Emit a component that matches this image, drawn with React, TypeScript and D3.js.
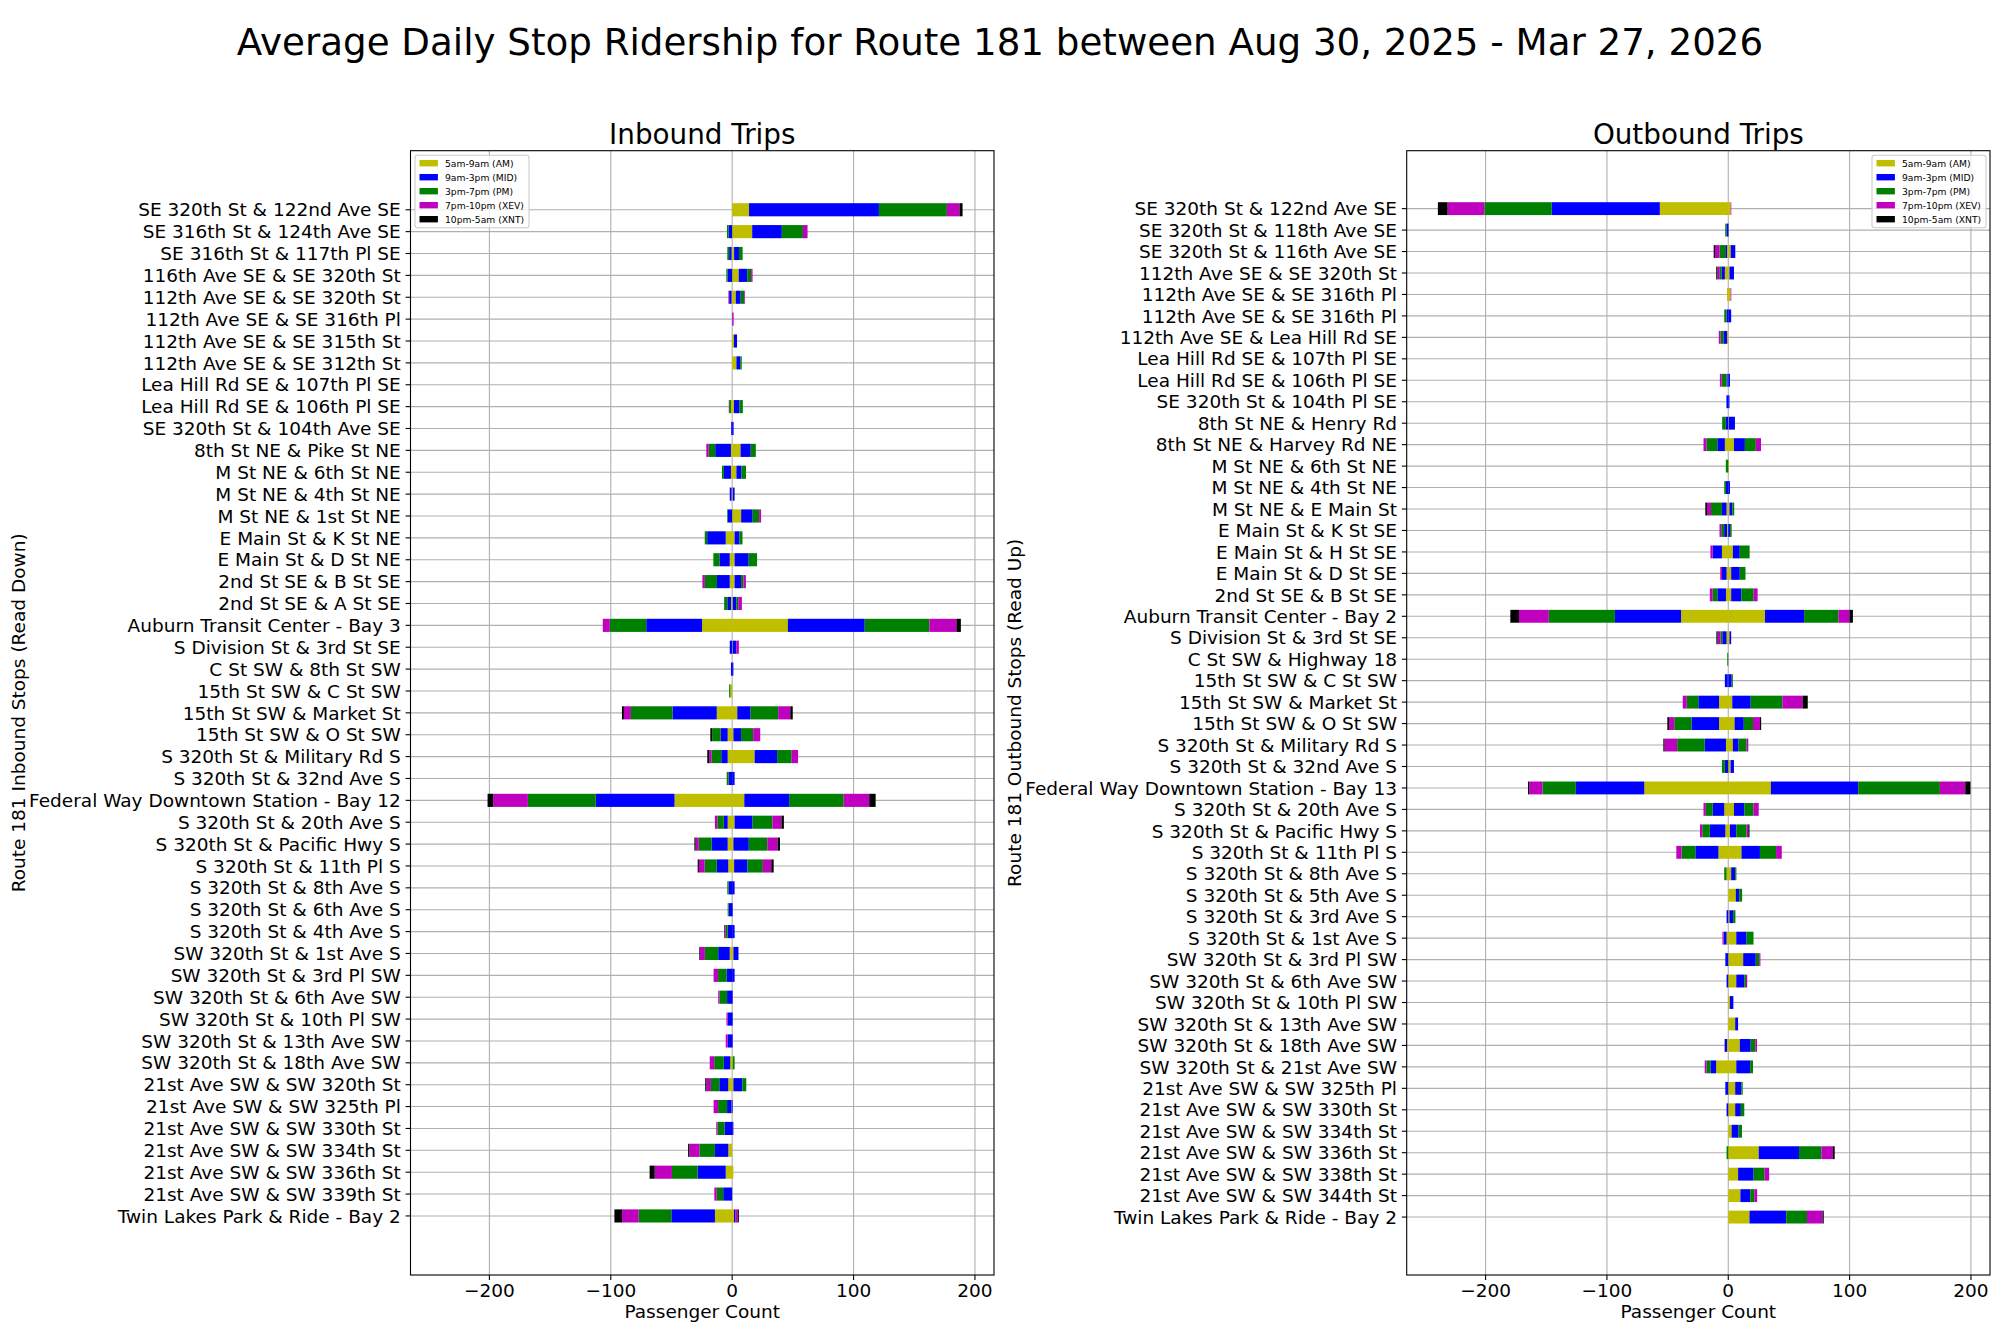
import React from 'react';
import * as d3 from 'd3';

// time-of-day periods, stacked outward from zero on both sides
const periods = ['5am-9am (AM)', '9am-3pm (MID)', '3pm-7pm (PM)', '7pm-10pm (XEV)', '10pm-5am (XNT)'];
const periodColors = ['#bfbf00', '#0000ff', '#008000', '#bf00bf', '#000000'];
const xTicks = [-200, -100, 0, 100, 200];

const inboundStops = [
  'SE 320th St & 122nd Ave SE', 'SE 316th St & 124th Ave SE', 'SE 316th St & 117th Pl SE',
  '116th Ave SE & SE 320th St', '112th Ave SE & SE 320th St', '112th Ave SE & SE 316th Pl',
  '112th Ave SE & SE 315th St', '112th Ave SE & SE 312th St', 'Lea Hill Rd SE & 107th Pl SE',
  'Lea Hill Rd SE & 106th Pl SE', 'SE 320th St & 104th Ave SE', '8th St NE & Pike St NE',
  'M St NE & 6th St NE', 'M St NE & 4th St NE', 'M St NE & 1st St NE', 'E Main St & K St NE',
  'E Main St & D St NE', '2nd St SE & B St SE', '2nd St SE & A St SE', 'Auburn Transit Center - Bay 3',
  'S Division St & 3rd St SE', 'C St SW & 8th St SW', '15th St SW & C St SW', '15th St SW & Market St',
  '15th St SW & O St SW', 'S 320th St & Military Rd S', 'S 320th St & 32nd Ave S',
  'Federal Way Downtown Station - Bay 12', 'S 320th St & 20th Ave S', 'S 320th St & Pacific Hwy S',
  'S 320th St & 11th Pl S', 'S 320th St & 8th Ave S', 'S 320th St & 6th Ave S', 'S 320th St & 4th Ave S',
  'SW 320th St & 1st Ave S', 'SW 320th St & 3rd Pl SW', 'SW 320th St & 6th Ave SW',
  'SW 320th St & 10th Pl SW', 'SW 320th St & 13th Ave SW', 'SW 320th St & 18th Ave SW',
  '21st Ave SW & SW 320th St', '21st Ave SW & SW 325th Pl', '21st Ave SW & SW 330th St',
  '21st Ave SW & SW 334th St', '21st Ave SW & SW 336th St', '21st Ave SW & SW 339th St',
  'Twin Lakes Park & Ride - Bay 2',
];

// boardings (drawn to the right)
const inboundOnAM = [13.9, 16.5, 1.6, 5.4, 3, 0, 1.5, 3.5, 0, 1.5, 0, 6.9, 3.5, 0.5, 7.4, 2, 2, 2, 0.5, 45.9, 0.5, 0, 0, 4.2, 1, 18.5, 0, 10, 2, 1, 1.6, 0, 0, 0, 1, 0, 0, 0, 0, 0.5, 1, 0, 0, 0, 1, 0, 1.5];
const inboundOnMID = [107, 24.4, 4, 7, 4, 0, 2.5, 3.2, 0, 4.5, 1.2, 8.4, 4.2, 1.5, 9.5, 4, 11.6, 5.3, 3, 63.3, 3, 1, 0, 11, 6.3, 18.5, 2, 36.9, 14.8, 12.7, 11, 2, 0.5, 2, 4.2, 2, 0.5, 0.5, 0.5, 0, 7.4, 0.5, 1, 0, 0, 0, 1];
const inboundOnPM = [56, 17.4, 3, 3.2, 3, 0, 0, 1.2, 0, 2.8, 0, 4.2, 3.7, 0, 5.3, 2.5, 6.9, 2, 1.5, 53.3, 0, 0, 0, 22.7, 10, 12, 0, 44.9, 16.4, 15.3, 12.7, 0, 0, 0, 0, 0, 0, 0, 0, 1.5, 3.2, 0, 0, 0, 0, 0, 0];
const inboundOnXEV = [10.4, 3.8, 0, 1.2, 0.6, 1.2, 0, 0, 0, 0, 0, 0, 0, 0, 1.6, 0, 0, 2, 3, 22.2, 2, 0, 0, 10, 5.8, 5.3, 0, 21.1, 7.4, 8.4, 6.9, 0, 0, 0, 0, 0, 0, 0, 0, 0, 0, 0, 0, 0, 0, 0, 2];
const inboundOnXNT = [2.5, 0, 0, 0, 0, 0, 0, 0, 0, 0, 0, 0, 0, 0, 0, 0, 0, 0, 0, 3.7, 0, 0, 0, 2, 0, 0, 0, 5.3, 2, 2, 2, 0, 0, 0, 0, 0, 0, 0, 0, 0, 0, 0, 0, 0, 0, 0, 1];
// alightings (drawn to the left)
const inboundOffAM = [0, 0, 0.5, 0, 0.5, 0, 0, 0, 0, 1, 0, 1, 1, 0.5, 0, 5.3, 2, 2, 1, 24.8, 0, 0, 1.5, 12.7, 3.7, 3.7, 0, 47.5, 3.7, 3.7, 3.2, 0, 0, 0, 2, 0, 0, 0, 0, 1.6, 3.2, 0.5, 0, 3.2, 5.3, 0, 14.2];
const inboundOffMID = [0, 3, 2, 3.8, 2, 0, 0, 0, 0, 0, 0.8, 13, 5.8, 1.5, 3.7, 15.3, 8.5, 10.5, 3, 46, 2, 1, 0, 36.4, 5.8, 5.3, 3, 64.9, 3.2, 13.2, 9.5, 3, 3, 3.7, 9.5, 4.7, 4.2, 3.7, 3.7, 5.3, 7.4, 3.7, 6.3, 11, 23.2, 7.4, 35.9];
const inboundOffPM = [0, 1.3, 1.5, 1, 0, 0, 0, 0, 0, 1.5, 0, 5.3, 1.6, 0, 0.5, 2, 5, 10, 2.6, 30, 0, 0, 1, 34.3, 6.9, 7.9, 1.5, 55.9, 5.3, 10.6, 10, 1, 0.7, 2, 11, 6.9, 6.3, 0, 0, 7.9, 6.9, 7.4, 5.8, 12.7, 21.1, 5.3, 26.9];
const inboundOffXEV = [0, 0, 0, 0, 0.6, 0, 0, 0, 0, 0.3, 0, 2, 0, 0, 0, 0, 0, 2, 0, 5.8, 0, 0, 0, 5.8, 0, 2, 0, 28.5, 2, 2.6, 4.7, 0, 0, 1, 4.2, 3.7, 1, 1, 1.6, 3.7, 3.7, 3.7, 1, 8.4, 14.2, 2, 13.7];
const inboundOffXNT = [0, 0, 0, 0, 0, 0, 0, 0, 0, 0, 0, 0, 0, 0, 0, 0, 0, 0, 0, 0, 0, 0, 0, 1.6, 1.6, 1.6, 0, 4.7, 0, 1, 1, 0, 0, 0, 0.5, 0, 0, 0, 0, 0, 1, 0, 0, 1, 4.2, 0, 6.3];

const outboundStops = [
  'SE 320th St & 122nd Ave SE', 'SE 320th St & 118th Ave SE', 'SE 320th St & 116th Ave SE',
  '112th Ave SE & SE 320th St', '112th Ave SE & SE 316th Pl', '112th Ave SE & SE 316th Pl',
  '112th Ave SE & Lea Hill Rd SE', 'Lea Hill Rd SE & 107th Pl SE', 'Lea Hill Rd SE & 106th Pl SE',
  'SE 320th St & 104th Pl SE', '8th St NE & Henry Rd', '8th St NE & Harvey Rd NE',
  'M St NE & 6th St NE', 'M St NE & 4th St NE', 'M St NE & E Main St', 'E Main St & K St SE',
  'E Main St & H St SE', 'E Main St & D St SE', '2nd St SE & B St SE', 'Auburn Transit Center - Bay 2',
  'S Division St & 3rd St SE', 'C St SW & Highway 18', '15th St SW & C St SW', '15th St SW & Market St',
  '15th St SW & O St SW', 'S 320th St & Military Rd S', 'S 320th St & 32nd Ave S',
  'Federal Way Downtown Station - Bay 13', 'S 320th St & 20th Ave S', 'S 320th St & Pacific Hwy S',
  'S 320th St & 11th Pl S', 'S 320th St & 8th Ave S', 'S 320th St & 5th Ave S', 'S 320th St & 3rd Ave S',
  'S 320th St & 1st Ave S', 'SW 320th St & 3rd Pl SW', 'SW 320th St & 6th Ave SW',
  'SW 320th St & 10th Pl SW', 'SW 320th St & 13th Ave SW', 'SW 320th St & 18th Ave SW',
  'SW 320th St & 21st Ave SW', '21st Ave SW & SW 325th Pl', '21st Ave SW & SW 330th St',
  '21st Ave SW & SW 334th St', '21st Ave SW & SW 336th St', '21st Ave SW & SW 338th St',
  '21st Ave SW & SW 344th St', 'Twin Lakes Park & Ride - Bay 2',
];

const outboundOnAM = [2, 0, 2, 1, 2, 0, 0, 0, 0, 0, 0.5, 4.7, 0.5, 0, 1, 0, 3.8, 2.4, 2.4, 30.3, 1, 0, 0, 3.3, 5.2, 3.8, 1.9, 35.1, 4.7, 1.4, 10.9, 2.4, 6.2, 1, 6.6, 12.3, 6.6, 1.4, 5.7, 9.5, 6.6, 5.7, 5.7, 2.8, 25.1, 8.1, 10, 17.5];
const outboundOnMID = [0, 0.3, 3.8, 3.7, 0, 2.4, 0, 0, 1.4, 1, 5, 9, 0, 1.4, 2.4, 1.5, 5.7, 7.1, 8.5, 32.2, 1.4, 0, 2.8, 15.2, 7.6, 4.7, 2.8, 72, 8.5, 5.2, 15.2, 3.3, 2.8, 3, 8.5, 10.4, 6.6, 2.8, 2.4, 9, 11.4, 5.2, 4.7, 5.7, 33.2, 12.8, 8.1, 30.3];
const outboundOnPM = [0, 0, 0, 0, 0, 0, 0, 0, 0, 0, 0, 9, 0, 0, 1.5, 1.3, 8.1, 4.7, 10, 28.4, 0, 0, 1, 26.1, 7.6, 6.6, 0, 67.3, 7.6, 8.5, 13.3, 1, 2.4, 1.9, 5.7, 2.8, 1.4, 0, 0, 3.8, 2.4, 1, 2.8, 2.8, 18.5, 9, 3.3, 17.1];
const outboundOnXEV = [0.5, 0, 0, 0, 0.5, 0, 0, 0, 0, 0, 0, 4.3, 0, 0, 0, 0, 0, 0, 3.3, 9, 0, 0, 0, 16.6, 5.7, 1.4, 0, 20.9, 4.3, 1.4, 4.7, 0, 0, 0, 0, 1, 1, 0, 0, 1.4, 0, 0, 0, 0, 9.5, 3.8, 2.4, 12.8];
const outboundOnXNT = [0, 0, 0, 0, 0, 0, 0, 0, 0, 0, 0, 0, 0, 0, 0, 0, 0, 0, 0, 2.8, 0, 0, 0, 4.3, 1, 0, 0, 4.3, 0, 1, 0, 0, 0, 0, 0, 0, 0, 0, 0, 0, 0, 0, 0, 0, 1.4, 0, 0, 1];
const outboundOffAM = [56.4, 0, 1, 2.8, 1, 0, 1, 0, 0.5, 0, 0, 2.8, 0, 0, 1.4, 1, 5.2, 1.4, 1.9, 38.9, 1.4, 0, 0.4, 7.6, 7.6, 1.9, 0, 69.2, 3.3, 2.4, 8.1, 1.4, 0, 0, 1.4, 0, 0, 0, 0, 1, 10, 0, 0, 0, 0, 0, 0, 0];
const outboundOffMID = [89.1, 1.5, 1.5, 2.8, 0, 1.4, 3, 0, 1, 1.5, 2, 6.2, 0, 1.9, 3.8, 2.4, 7.6, 3.8, 7.1, 54.5, 3.5, 0, 2.4, 17.1, 22.7, 17.5, 2.8, 56.4, 9.5, 12.8, 19, 0, 0, 1.4, 2.4, 2.4, 1.4, 0, 0, 2, 4.7, 2.4, 1.4, 0, 0, 0, 0, 0];
const outboundOffPM = [55.5, 1, 4.7, 1.4, 0, 1.9, 2.4, 0, 4, 0, 3, 9, 2, 1.4, 9, 2.4, 0, 0, 3.8, 54.5, 1.5, 0.8, 0, 9.5, 14.2, 22.7, 2.4, 27.5, 5.7, 6.2, 11.4, 1.9, 0, 0, 0, 0, 0, 0, 0, 0, 3.3, 0, 0, 0, 1.4, 0, 0, 0];
const outboundOffXEV = [30.3, 0, 3.8, 1.9, 0, 0, 1.4, 0, 1.4, 0, 0, 2.4, 0, 0, 3.3, 1.4, 1.9, 1.4, 2.4, 24.6, 2.4, 0, 0, 3.3, 4.3, 10.4, 0, 10.9, 1.9, 1.9, 4.3, 0, 0, 0, 1, 0, 0, 0, 0, 0, 1.4, 0, 0, 0, 0, 0, 0, 0];
const outboundOffXNT = [8, 0, 1, 1, 0, 0, 0, 0, 0, 0, 0, 0, 0, 0, 1.4, 0, 0, 0, 0, 7.1, 1, 0, 0, 0, 1.4, 1, 0, 1, 0, 0, 0, 0, 0, 0, 0, 0, 0, 0, 0, 0, 0, 0, 0, 0, 0, 0, 0, 0];

const W = 2000;
const H = 1333;
const FONT = 'DejaVu Sans, sans-serif';
const AX_TOP = 150.7;
const AX_BOTTOM = 1275;
const X_DOMAIN: [number, number] = [-265, 215.7];

type PanelProps = {
  left: number;
  right: number;
  title: string;
  ylabel: string;
  stops: string[];
  ons: number[][];
  offs: number[][];
  legendRight: boolean;
};

const fmtTick = (v: number) => (v < 0 ? '\u2212' + Math.abs(v) : String(v));

const Panel = ({ left, right, title, ylabel, stops, ons, offs, legendRight }: PanelProps) => {
  const n = stops.length;
  const x = d3.scaleLinear().domain(X_DOMAIN).range([left, right]);
  const y = d3.scaleLinear().domain([-2.7, n - 1 + 2.7]).range([AX_TOP, AX_BOTTOM]);
  const barH = 0.6 * (y(1) - y(0));

  const segments: { x0: number; x1: number; row: number; p: number }[] = [];
  stops.forEach((_, i) => {
    let pos = 0;
    let neg = 0;
    periods.forEach((__, p) => {
      const on = ons[p][i];
      if (on > 0) {
        segments.push({ x0: pos, x1: pos + on, row: i, p });
        pos += on;
      }
      const off = offs[p][i];
      if (off > 0) {
        segments.push({ x0: -neg - off, x1: -neg, row: i, p });
        neg += off;
      }
    });
  });

  const legendW = 114;
  const legendX = legendRight ? right - 4 - legendW : left + 4.5;
  const legendY = AX_TOP + 4.5;
  const midY = (AX_TOP + AX_BOTTOM) / 2;
  const ylabelX = left - 385.5;

  return (
    <g fontFamily={FONT}>
      {/* grid */}
      {xTicks.map((t) => (
        <line key={'gx' + t} x1={x(t)} x2={x(t)} y1={AX_TOP} y2={AX_BOTTOM} stroke="#b0b0b0" strokeWidth={1.1} />
      ))}
      {stops.map((s, i) => (
        <line key={'gy' + i} x1={left} x2={right} y1={y(i)} y2={y(i)} stroke="#b0b0b0" strokeWidth={1.1} />
      ))}

      {/* bars */}
      {segments.map((s, k) => (
        <rect
          key={k}
          x={x(s.x0)}
          width={x(s.x1) - x(s.x0)}
          y={y(s.row) - barH / 2}
          height={barH}
          fill={periodColors[s.p]}
        />
      ))}

      {/* frame */}
      <rect x={left} y={AX_TOP} width={right - left} height={AX_BOTTOM - AX_TOP} fill="none" stroke="#000" strokeWidth={1.1} />

      {/* y ticks and labels */}
      {stops.map((s, i) => (
        <g key={'yt' + i}>
          <line x1={left - 4.9} x2={left} y1={y(i)} y2={y(i)} stroke="#000" strokeWidth={1.1} />
          <text x={left - 9.7} y={y(i)} dy="0.36em" textAnchor="end" fontSize={18.5}>
            {s}
          </text>
        </g>
      ))}

      {/* x ticks and labels */}
      {xTicks.map((t) => (
        <g key={'xt' + t}>
          <line x1={x(t)} x2={x(t)} y1={AX_BOTTOM} y2={AX_BOTTOM + 4.9} stroke="#000" strokeWidth={1.1} />
          <text x={x(t)} y={1297} textAnchor="middle" fontSize={18.5}>
            {fmtTick(t)}
          </text>
        </g>
      ))}

      <text x={(left + right) / 2} y={1318} textAnchor="middle" fontSize={18.5}>
        Passenger Count
      </text>
      <text
        transform={`translate(${ylabelX},${midY}) rotate(-90)`}
        textAnchor="middle"
        fontSize={18.5}
      >
        {ylabel}
      </text>
      <text x={(left + right) / 2} y={144} textAnchor="middle" fontSize={27.8}>
        {title}
      </text>

      {/* legend */}
      <g transform={`translate(${legendX},${legendY})`}>
        <rect width={legendW} height={72.5} rx={2.5} fill="#fff" fillOpacity={0.8} stroke="#cccccc" strokeWidth={1.1} />
        {periods.map((p, j) => (
          <g key={p} transform={`translate(0,${8 + j * 14})`}>
            <rect x={4.5} y={-3.2} width={18.4} height={6.4} fill={periodColors[j]} />
            <text x={30} y={0} dy="0.36em" fontSize={9.2}>
              {p}
            </text>
          </g>
        ))}
      </g>
    </g>
  );
};

const App = () => {
  return (
    <svg
      width={W}
      height={H}
      viewBox={`0 0 ${W} ${H}`}
      style={{ position: 'absolute', left: 0, top: 0, background: '#fff' }}
    >
      <rect width={W} height={H} fill="#fff" />
      <text x={W / 2} y={55} textAnchor="middle" fontSize={37.2} fontFamily={FONT}>
        Average Daily Stop Ridership for Route 181 between Aug 30, 2025 - Mar 27, 2026
      </text>
      <Panel
        left={410.5}
        right={994}
        title="Inbound Trips"
        ylabel="Route 181 Inbound Stops (Read Down)"
        stops={inboundStops}
        ons={[inboundOnAM, inboundOnMID, inboundOnPM, inboundOnXEV, inboundOnXNT]}
        offs={[inboundOffAM, inboundOffMID, inboundOffPM, inboundOffXEV, inboundOffXNT]}
        legendRight={false}
      />
      <Panel
        left={1406.7}
        right={1990}
        title="Outbound Trips"
        ylabel="Route 181 Outbound Stops (Read Up)"
        stops={outboundStops}
        ons={[outboundOnAM, outboundOnMID, outboundOnPM, outboundOnXEV, outboundOnXNT]}
        offs={[outboundOffAM, outboundOffMID, outboundOffPM, outboundOffXEV, outboundOffXNT]}
        legendRight={true}
      />
    </svg>
  );
};

export default App;
